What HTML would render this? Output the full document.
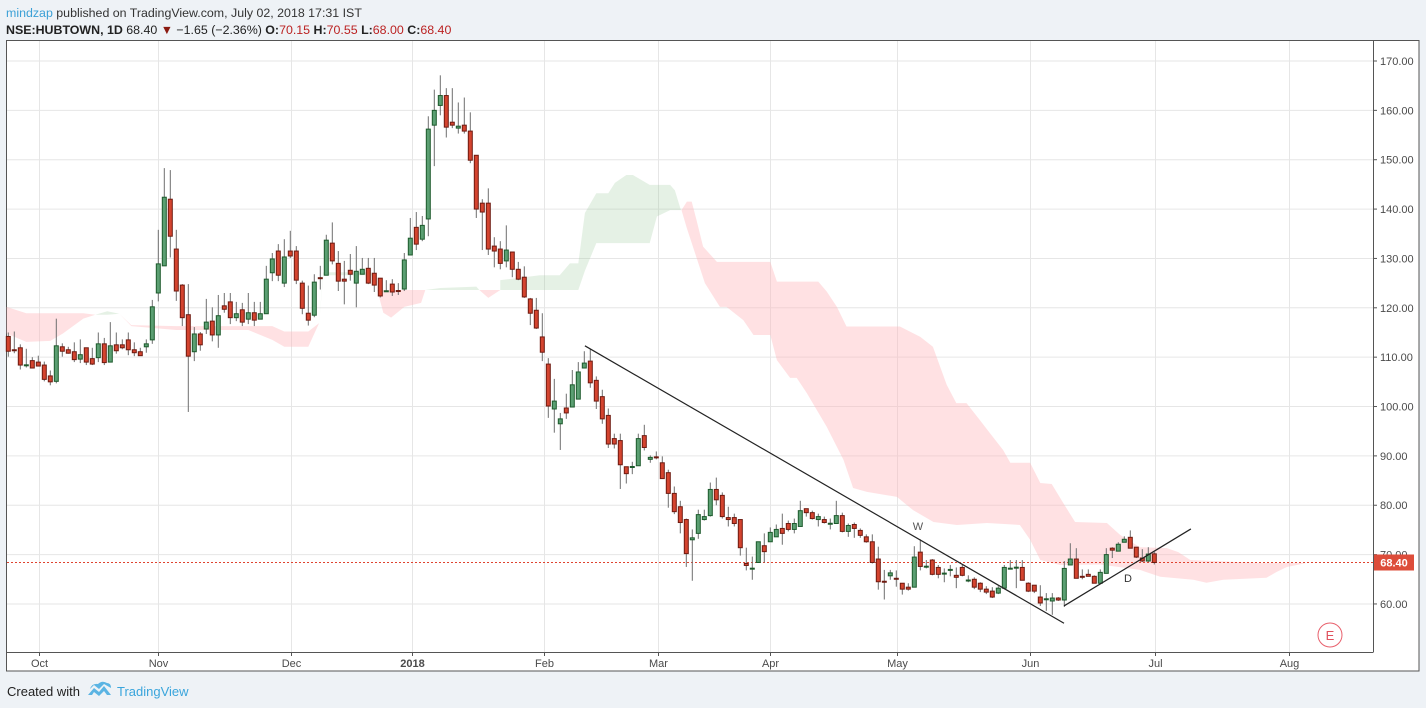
<!DOCTYPE html>
<html><head><meta charset="utf-8"><style>
body{margin:0;background:#eef2f6;font-family:"Liberation Sans",sans-serif;}
svg{display:block}
</style></head><body>
<svg id="c" width="1426" height="708" xmlns="http://www.w3.org/2000/svg">
<rect x="0" y="0" width="1426" height="708" fill="#eef2f6"/>
<text x="6" y="17" font-size="12.4" fill="#333"><tspan fill="#3ba0d6">mindzap</tspan> published on TradingView.com, July 02, 2018 17:31 IST</text>
<text x="6" y="34" font-size="12.4" fill="#222"><tspan font-weight="bold">NSE:HUBTOWN, 1D</tspan> 68.40 <tspan fill="#8b1a10">▼</tspan> −1.65 (−2.36%) <tspan font-weight="bold">O:</tspan><tspan fill="#b22">70.15</tspan> <tspan font-weight="bold">H:</tspan><tspan fill="#b22">70.55</tspan> <tspan font-weight="bold">L:</tspan><tspan fill="#b22">68.00</tspan> <tspan font-weight="bold">C:</tspan><tspan fill="#b22">68.40</tspan></text>
<rect x="6.5" y="40.5" width="1412.5" height="630.5" fill="#fff" stroke="#555"/>
<g id="grid"></g><g id="cloud"></g><g id="candles"></g><g id="draw"></g><g id="axes"></g>
<g>
<text x="7" y="696" font-size="13" fill="#222">Created with</text>
<path d="M88 695 L94 688 L99 692 L104 686 L111 695 L107 695 L104 691 L99 696 L94 692 L92 695 Z M90 689 Q92 683 98 684 Q102 680 107 683 Q111 683 111 688 L104 684 L99 689 L94 685 Z" fill="#5bb4e3"/>
<text x="117" y="696" font-size="13" fill="#3aa5dc">TradingView</text>
</g>
</svg>
<script>
const opens=[114.2,111.5,111.9,108.4,109.3,109.0,108.4,106.2,105.1,112.1,111.5,111.1,109.6,111.9,109.7,109.9,112.7,109.0,112.5,112.5,113.5,111.5,111.1,112.1,113.5,123.0,128.5,142.0,131.9,124.6,118.6,111.1,114.7,115.7,117.3,114.5,120.4,121.2,118.0,119.6,117.7,119.0,117.7,118.8,127.1,131.5,125.0,131.5,131.5,125.0,118.9,118.5,126.1,126.6,133.1,129.0,125.8,127.6,125.0,126.8,128.0,127.0,126.0,123.4,124.8,123.5,123.8,130.7,136.3,133.9,138.0,157.0,161.0,163.0,157.6,156.4,157.0,155.8,150.9,141.2,141.2,132.5,131.9,129.5,131.3,127.8,126.2,121.8,119.5,114.1,108.6,99.5,96.5,99.7,99.9,101.5,107.8,109.2,105.3,102.0,98.2,93.5,93.1,87.8,87.8,88.0,94.1,89.3,89.8,88.6,86.6,82.4,79.7,77.1,73.0,74.3,77.1,77.9,83.2,82.0,77.5,77.5,77.1,68.2,67.2,68.4,71.8,72.6,73.6,75.3,76.3,75.1,75.7,79.3,78.5,77.1,77.1,76.3,76.3,77.9,74.7,76.1,74.9,73.6,72.6,69.1,64.6,65.7,65.2,64.2,63.4,63.4,70.5,67.6,68.9,67.4,66.2,66.8,65.8,67.4,64.8,65.0,64.2,63.0,62.6,62.2,63.2,67.2,67.4,67.4,64.2,63.8,61.4,61.0,60.6,61.2,60.8,67.9,69.1,65.6,66.0,65.6,64.2,66.2,71.3,70.7,72.5,73.5,71.5,69.3,68.7,70.15];
const closes=[111.2,111.4,108.4,108.45,107.8,108.2,105.5,105.0,112.3,111.2,110.8,109.5,110.5,109.0,108.6,112.7,108.9,112.3,111.3,111.9,111.5,110.9,110.3,112.7,120.2,128.9,142.4,134.5,123.4,118.0,110.2,114.7,112.5,117.1,114.5,118.4,119.7,118.0,118.8,117.1,119.0,117.5,118.8,125.8,129.9,126.6,130.3,130.5,125.6,119.9,117.5,125.2,126.0,133.7,129.5,125.4,125.4,126.8,127.4,127.8,125.0,124.6,122.4,123.45,123.2,123.4,129.7,134.1,132.9,136.7,156.2,160.0,163.0,156.6,157.0,156.8,155.8,149.9,140.0,139.4,131.9,131.5,129.0,131.7,127.8,125.8,122.2,118.9,115.9,111.0,100.1,101.1,97.5,98.7,104.4,107.0,108.8,104.8,101.1,97.5,92.4,92.4,88.2,86.4,87.85,93.5,91.7,89.7,89.7,85.4,82.4,78.7,76.5,70.2,73.4,78.1,77.7,83.2,81.1,77.7,77.1,76.3,71.4,67.8,67.25,72.6,70.6,74.5,75.1,74.3,75.1,76.3,78.9,78.5,77.3,77.7,76.5,76.35,77.9,74.7,75.9,75.3,73.9,72.6,68.4,64.5,64.5,66.3,65.1,63.0,63.0,69.5,67.6,67.65,66.0,66.0,66.25,67.0,65.4,65.8,64.85,63.4,63.0,62.4,61.4,63.2,67.4,67.25,67.45,64.8,62.6,62.6,60.2,61.05,61.2,60.8,67.2,69.1,65.2,65.4,65.6,64.2,66.4,70.0,70.9,72.1,73.1,71.3,69.5,68.7,70.1,68.4];
const highs=[115.0,115.2,112.6,111.7,110.0,110.3,109.1,107.3,117.8,112.8,112.1,113.0,113.6,111.9,111.9,115.0,113.9,117.1,115.0,113.6,115.0,113.0,111.9,113.6,121.6,135.8,148.3,147.9,135.8,124.8,124.8,116.1,115.1,121.8,120.1,122.6,123.0,123.0,121.2,121.0,123.0,121.2,121.2,128.5,131.1,132.9,133.9,135.6,132.5,125.5,124.5,126.8,128.5,134.8,137.3,131.5,129.5,130.9,132.5,130.1,130.1,130.1,126.0,125.6,125.8,125.0,131.1,138.2,139.4,138.6,158.8,164.2,167.1,164.5,164.5,161.6,162.6,159.6,150.9,142.0,144.2,134.3,133.5,136.7,131.3,129.3,128.4,122.0,122.0,118.9,109.8,105.6,98.7,102.6,107.4,109.0,111.2,111.6,106.1,103.4,99.6,94.5,94.5,87.8,88.8,94.5,96.3,90.1,90.9,89.9,87.2,83.8,80.9,77.3,75.1,79.1,79.1,84.6,85.6,82.6,79.7,78.3,77.1,71.4,69.6,72.6,74.3,75.5,76.1,78.3,76.9,77.3,80.9,79.3,78.9,78.3,77.7,77.3,80.9,78.5,76.3,76.5,75.3,74.1,74.1,71.6,66.9,66.9,66.8,64.2,64.2,71.7,73.1,68.9,69.1,67.9,67.2,67.9,67.4,67.9,65.8,65.4,64.4,63.6,63.4,63.6,67.9,68.9,68.9,68.9,64.4,63.8,63.8,62.2,62.2,61.4,68.7,72.3,71.3,67.0,67.0,65.8,67.0,71.3,71.5,72.5,73.7,74.9,71.5,71.1,71.5,70.55];
const lows=[110.1,110.8,107.5,107.9,107.8,108.2,105.1,104.3,104.7,110.1,110.7,109.0,108.8,108.4,108.4,109.0,108.4,109.0,110.7,111.6,110.4,110.2,110.3,110.9,112.7,121.3,128.5,130.2,121.4,116.3,98.9,109.2,111.3,114.7,113.2,111.9,119.0,116.7,117.3,116.3,116.7,116.3,117.7,118.8,125.4,125.4,124.2,130.1,124.8,118.7,116.4,118.1,123.7,126.6,128.8,123.4,120.7,125.5,120.1,126.8,124.8,123.2,122.1,123.2,122.4,122.6,123.4,130.7,131.7,133.5,134.5,148.7,159.0,154.5,156.4,155.3,155.3,149.3,138.2,131.7,130.7,128.2,127.8,128.2,126.2,125.6,122.0,116.5,115.7,109.2,97.7,94.7,91.2,97.5,99.9,101.5,107.8,103.8,99.5,96.5,91.6,91.5,83.3,84.4,86.3,88.0,91.1,88.6,89.3,85.4,79.5,78.2,74.3,67.5,64.7,73.2,76.9,77.7,80.0,77.3,75.7,75.7,69.8,66.8,64.9,68.4,68.4,72.6,73.6,72.0,74.7,74.3,75.7,77.7,77.1,75.7,76.3,75.1,76.3,74.5,73.6,73.4,73.4,72.4,68.2,62.9,60.9,64.9,63.5,61.9,62.7,63.4,66.8,67.2,65.8,65.2,64.4,65.6,63.2,65.6,64.4,63.0,62.4,62.0,61.2,62.0,63.0,67.0,63.2,64.8,62.4,62.2,59.6,58.6,57.8,60.6,59.4,67.9,65.2,65.0,65.6,64.2,64.2,66.2,69.3,70.7,72.5,71.3,69.3,68.5,68.5,68.0];
const yTicks=[60,70,80,90,100,110,120,130,140,150,160,170];
const monthLabels=["Oct","Nov","Dec","2018","Feb","Mar","Apr","May","Jun","Jul","Aug"];
const monthIdx=[5.1,25,47.1,67.3,89.2,108.2,127,148.2,170.2,191.2,213.4];
const lastPrice=68.40;
const cloudRed1=[[-0.3,120.2,114.8],[3,118.9,113.1],[7,118.9,113.3],[9.1,118.9,114.8],[12.5,118.9,117.8],[14.5,118.6,118.6]];
const cloudGreen1=[[14.5,118.6,118.6],[16.5,119.3,118.6],[18.5,118.8,118.8]];
const cloudRed2=[[18.5,118.8,118.8],[20.5,116.5,116.3],[28,116.3,115.5],[40,116.3,115.5],[44,116.3,113.5],[46,115.2,112.1],[50,115.2,112.1],[51.8,116.9,116.9]];
const cloudGreen2=[[51.8,116.9,116.9],[52.5,127.2,126.6],[60.5,127.2,126.6],[61.5,123.6,123.6]];
const cloudRed3=[[61.5,123.6,123.6],[62.5,123.6,119],[63.8,123.6,118],[66,123.6,120.2],[68.8,123.6,121],[69.5,123.6,123.6]];
const cloudGreen3=[[69.5,123.6,123.6],[72,124,123.6],[78,124.3,123.6],[78.5,123.6,123.6]];
const cloudRed4=[[78.5,123.6,123.6],[80,123.6,122],[82,123.6,123.6]];
const cloudGreen4=[[82,125.6,123.6],[88.6,126.6,123.6],[91.9,126.6,123.6],[93.6,129,123.6],[95,129,123.6],[96.1,139.2,127.5],[98,143.2,133.1],[100,143.2,133.1],[101.1,145.3,133.1],[103,146.9,133.1],[104.1,146.9,133.1],[106.9,144.9,133.1],[108.1,144.9,138.5],[110.3,144.9,139.8],[111.1,143.8,139.8],[112.1,139.8,139.8]];
const cloudRed5Top=[[112.2,139.8],[113.1,141.5],[113.9,141.5],[114.7,137.8],[115.8,132.4],[118.1,129.3],[127,129.3],[128.1,125.3],[135,125.3],[136.4,123.3],[138.1,120.2],[139.7,116.2],[148.6,116.2],[152,114.1],[154.1,112.1],[156.4,104.4],[158,100.7],[159.7,100.7],[161.9,97.3],[163.6,94.6],[165.8,91.2],[167,88.6],[170.3,88.6],[172,84.5],[173.9,84.3],[175.8,80.5],[177.8,76.6],[183.1,76.4],[185.3,74],[188.6,71.5],[193.1,71.3],[195,70.5],[197,68.9],[208.6,68.3],[216.4,68.3]];
const cloudRed5Bot=[[112.2,139.8],[113.1,136.1],[116.1,125],[118.6,120.2],[119.7,120.2],[122.5,117.5],[124.2,114.5],[127,114.5],[128.1,109.4],[130.3,105.8],[131.4,105.8],[133.1,102.7],[136.4,95.9],[139.2,89.2],[140.8,83.5],[143.1,82.7],[148.1,81.7],[150.8,79],[154.2,76.6],[158.1,76],[163.1,76.4],[168.6,76],[170.3,73],[172,68.9],[175.3,67.9],[182,68],[188.6,66.9],[192,65.5],[197.5,64.9],[199.7,64.3],[202.5,64.9],[209.7,65.3],[211.4,66.5],[213.1,67.5],[216.4,68.3]];
const trendDown=[[96.1,112.3],[175.95,56.1]];
const trendUp=[[175.95,59.6],[197.1,75.2]];

const NS="http://www.w3.org/2000/svg";
const X=i=>8.3+6*i;
const Y=p=>61+(170-p)*4.936;
function mk(tag,attrs,parent){const e=document.createElementNS(NS,tag);for(const k in attrs)e.setAttribute(k,attrs[k]);parent.appendChild(e);return e;}
const grid=document.getElementById('grid'),cloud=document.getElementById('cloud'),cg=document.getElementById('candles'),dr=document.getElementById('draw'),ax=document.getElementById('axes');

yTicks.forEach(v=>{
  const l=mk('line',{x1:7,x2:1373,y1:Y(v),y2:Y(v),stroke:'#e6e6e6'},grid);
  
  
  mk('line',{x1:1373,x2:1377,y1:Y(v),y2:Y(v),stroke:'#555'},ax);
  const t=mk('text',{x:1380,y:Y(v)+4,'font-size':11,fill:'#4a4a4a'},ax);
  t.textContent=v.toFixed(2);
  
  
});
monthIdx.forEach((m,k)=>{
  const x=Math.round(X(m))+0.5;
  const l=mk('line',{x1:x,x2:x,y1:41,y2:652,stroke:'#e6e6e6'},grid);
  
  
  mk('line',{x1:x,x2:x,y1:652,y2:656,stroke:'#555'},ax);
  const t=mk('text',{x:x,y:667,'font-size':11,fill:'#4a4a4a','text-anchor':'middle','font-weight':monthLabels[k]==='2018'?'bold':'normal'},ax);
  t.textContent=monthLabels[k];
  
  
});
mk('line',{x1:1373.5,x2:1373.5,y1:41,y2:652,stroke:'#555'},ax);
mk('line',{x1:7,x2:1373.5,y1:652.5,y2:652.5,stroke:'#555'},ax);

function seg(pts,color,name){
  const top=pts.map(p=>X(p[0])+','+Y(p[1]));
  const bot=pts.slice().reverse().map(p=>X(p[0])+','+Y(p[2]));
  const pg=mk('polygon',{points:top.concat(bot).join(' '),fill:color},cloud);
  
  
}
const RED='rgba(255,180,185,0.4)',GRN='rgba(150,200,150,0.25)';
seg(cloudRed1,RED,'cloud-bear');seg(cloudGreen1,GRN,'cloud-bull');seg(cloudRed2,RED,'cloud-bear');
seg(cloudGreen2,GRN,'cloud-bull');seg(cloudRed3,RED,'cloud-bear');seg(cloudGreen3,GRN,'cloud-bull');
seg(cloudRed4,RED,'cloud-bear');seg(cloudGreen4,GRN,'cloud-bull');
(function(){
  const pts=cloudRed5Top.map(p=>X(p[0])+','+Y(p[1])).concat(cloudRed5Bot.slice().reverse().map(p=>X(p[0])+','+Y(p[1])));
  const pg=mk('polygon',{points:pts.join(' '),fill:RED},cloud);
  
  
})();

const pl=mk('line',{x1:7,x2:1373,y1:Y(lastPrice),y2:Y(lastPrice),stroke:'#e0432f','stroke-dasharray':'2,2'},cg);



for(let i=0;i<opens.length;i++){
  const o=opens[i],c=closes[i],up=c>=o,x=X(i);
  const w=mk('line',{x1:x,x2:x,y1:Y(highs[i]),y2:Y(lows[i]),stroke:'#6e6e6e'},cg);
  
  
  const yt=Y(Math.max(o,c)),yb=Y(Math.min(o,c));
  const b=mk('rect',{x:x-2,y:yt,width:4,height:Math.max(yb-yt,1),fill:up?'#5b9f72':'#d4442f',stroke:up?'#1d5a2c':'#6e1a10','stroke-width':1},cg);
  
  
}

[trendDown,trendUp].forEach((t,k)=>{
  const l=mk('line',{x1:X(t[0][0]),y1:Y(t[0][1]),x2:X(t[1][0]),y2:Y(t[1][1]),stroke:'#222','stroke-width':1.2},dr);
  
  
});
const tw=mk('text',{x:918,y:530,'font-size':11,fill:'#555','text-anchor':'middle'},dr);tw.textContent='W';


const td=mk('text',{x:1128,y:582,'font-size':11,fill:'#333','text-anchor':'middle'},dr);td.textContent='D';



const bx=mk('rect',{x:1374,y:Y(lastPrice)-8,width:40,height:16,fill:'#dd4d3a'},ax);


const bt=mk('text',{x:1394,y:Y(lastPrice)+4,'font-size':11,fill:'#fff','text-anchor':'middle','font-weight':'bold'},ax);bt.textContent='68.40';



const ec=mk('circle',{cx:1330,cy:635,r:12,fill:'#fff',stroke:'#e8606c','stroke-width':1},ax);


const et=mk('text',{x:1330,y:640,'font-size':13,fill:'#e0505c','text-anchor':'middle'},ax);et.textContent='E';


</script>
</body></html>
